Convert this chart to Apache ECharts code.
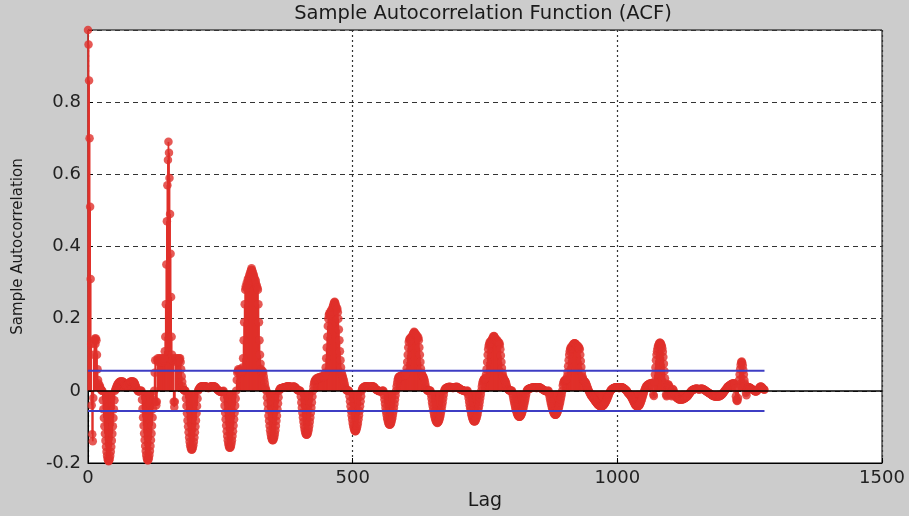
<!DOCTYPE html>
<html><head><meta charset="utf-8">
<script src="https://cdn.jsdelivr.net/npm/echarts@6/dist/echarts.min.js"></script>
<style>html,body{margin:0;padding:0;background:#cccccc}#c{width:909px;height:516px}</style>
</head><body><div id="c"></div>
<script>
// Sample autocorrelation value at each lag (index = lag)
const acf = [
/*0*/ 1,.96,.86,.70,.51,.31,.13,-.04,-.12,-.14,
/*10*/ -.02,.1,.14,.145,.13,.145,.14,.1,.06,.03,
/*20*/ .02,.01,.015,.01,.005,.002,0,0,-.026,-.051,
/*30*/ -.075,-.098,-.119,-.138,-.155,-.169,-.18,-.188,-.193,-.195,
/*40*/ -.193,-.188,-.18,-.169,-.155,-.138,-.119,-.098,-.075,-.051,
/*50*/ -.026,0,.004,.008,.012,.015,.018,.02,.022,.024,
/*60*/ .025,.026,.025,.026,.025,.026,.025,.024,.022,.02,
/*70*/ .018,.016,.015,.014,.015,.016,.018,.02,.022,.024,
/*80*/ .025,.026,.025,.026,.025,.026,.025,.024,.022,.018,
/*90*/ .014,.01,.006,.003,0,-.001,-.001,-.002,-.001,0,
/*100*/ 0,0,-.025,-.05,-.074,-.097,-.118,-.136,-.153,-.167,
/*110*/ -.178,-.186,-.191,-.193,-.191,-.186,-.178,-.167,-.153,-.136,
/*120*/ -.118,-.097,-.074,-.05,-.025,0,.05,.085,-.03,-.04,
/*130*/ -.03,.085,.09,.08,.085,.09,.085,.08,.09,.085,
/*140*/ .085,.08,.09,.085,.09,.11,.15,.24,.35,.47,
/*150*/ .57,.64,.69,.66,.59,.49,.38,.26,.15,.1,
/*160*/ .085,.09,-.03,-.045,-.03,.085,.09,.08,.085,.09,
/*170*/ .085,.08,.09,.085,.09,.08,.06,.04,.025,.012,
/*180*/ .004,.002,0,.001,0,-.021,-.042,-.062,-.082,-.099,
/*190*/ -.115,-.129,-.141,-.151,-.157,-.162,-.163,-.162,-.157,-.151,
/*200*/ -.141,-.129,-.115,-.099,-.082,-.062,-.042,-.021,0,.004,
/*210*/ .006,.008,.01,.011,.012,.013,.012,.013,.012,.013,
/*220*/ .012,.013,.012,.012,.011,.01,.009,.008,.008,.009,
/*230*/ .01,.011,.012,.013,.012,.013,.012,.013,.012,.012,
/*240*/ .011,.01,.008,.006,.004,.002,.002,0,-.001,-.002,
/*250*/ -.002,-.003,-.003,-.002,-.002,-.001,0,-.021,-.041,-.061,
/*260*/ -.079,-.096,-.112,-.125,-.137,-.146,-.153,-.157,-.158,-.157,
/*270*/ -.153,-.146,-.137,-.125,-.112,-.096,-.079,-.061,-.041,-.021,
/*280*/ 0,.03,.05,.055,.06,.055,.05,.055,.06,.055,
/*290*/ .05,.055,.065,.09,.14,.19,.24,.28,.29,.285,
/*300*/ .3,.295,.31,.305,.315,.32,.325,.33,.335,.34,
/*310*/ .335,.33,.325,.32,.315,.31,.3,.305,.295,.29,
/*320*/ .285,.28,.24,.19,.14,.1,.075,.06,.055,.05,
/*330*/ .055,.05,.04,.03,.02,.01,.004,0,-.018,-.035,
/*340*/ -.052,-.069,-.083,-.097,-.109,-.119,-.127,-.132,-.136,-.137,
/*350*/ -.136,-.132,-.127,-.119,-.109,-.097,-.083,-.069,-.052,-.035,
/*360*/ -.018,0,.004,.006,.007,.007,.008,.008,.008,.009,
/*370*/ .009,.01,.01,.01,.011,.011,.012,.012,.012,.012,
/*380*/ .012,.012,.011,.011,.01,.01,.01,.011,.011,.012,
/*390*/ .011,.01,.009,.007,.005,.003,.002,.001,.001,0,
/*400*/ 0,0,-.016,-.032,-.047,-.061,-.074,-.086,-.097,-.106,
/*410*/ -.113,-.118,-.121,-.122,-.121,-.118,-.113,-.106,-.097,-.086,
/*420*/ -.074,-.061,-.047,-.032,-.016,0,.012,.02,.026,.03,
/*430*/ .03,.032,.035,.033,.036,.034,.037,.035,.038,.036,
/*440*/ .039,.037,.04,.038,.04,.037,.04,.042,.05,.065,
/*450*/ .09,.12,.15,.18,.2,.21,.215,.21,.22,.215,
/*460*/ .225,.22,.23,.235,.24,.245,.247,.244,.238,.232,
/*470*/ .225,.228,.218,.2,.17,.14,.11,.085,.065,.05,
/*480*/ .045,.04,.035,.03,.024,.017,.01,.005,.002,.001,
/*490*/ 0,.001,0,0,-.015,-.029,-.043,-.056,-.068,-.079,
/*500*/ -.089,-.097,-.103,-.108,-.111,-.112,-.111,-.108,-.103,-.097,
/*510*/ -.089,-.079,-.068,-.056,-.043,-.029,-.015,0,.005,.007,
/*520*/ .009,.01,.011,.012,.012,.013,.012,.013,.012,.012,
/*530*/ .011,.01,.01,.011,.012,.013,.012,.013,.012,.012,
/*540*/ .011,.01,.008,.006,.004,.003,.002,.001,.001,0,
/*550*/ -.001,-.001,-.001,-.001,-.001,-.001,0,0,0,-.012,
/*560*/ -.024,-.036,-.047,-.057,-.066,-.075,-.081,-.087,-.091,-.093,
/*570*/ -.094,-.093,-.091,-.087,-.081,-.075,-.066,-.057,-.047,-.036,
/*580*/ -.024,-.012,0,.012,.022,.03,.035,.038,.04,.039,
/*590*/ .04,.042,.04,.043,.041,.044,.042,.045,.043,.046,
/*600*/ .044,.05,.062,.08,.1,.12,.135,.142,.145,.14,
/*610*/ .148,.145,.152,.15,.157,.16,.164,.162,.158,.154,
/*620*/ .156,.15,.152,.145,.148,.14,.12,.1,.08,.062,
/*630*/ .05,.045,.042,.04,.037,.033,.028,.02,.012,.006,
/*640*/ .003,.001,0,0,.001,0,.001,0,-.011,-.021,
/*650*/ -.032,-.041,-.051,-.059,-.067,-.073,-.079,-.083,-.086,-.088,
/*660*/ -.089,-.088,-.086,-.083,-.079,-.073,-.067,-.059,-.051,-.041,
/*670*/ -.032,-.021,-.011,0,.004,.006,.007,.008,.009,.009,
/*680*/ .01,.01,.011,.01,.011,.01,.01,.009,.009,.008,
/*690*/ .008,.009,.009,.01,.01,.011,.01,.011,.01,.009,
/*700*/ .008,.007,.006,.005,.004,.003,.002,.002,.001,.001,
/*710*/ 0,0,-.001,-.001,-.001,-.001,0,0,-.01,-.02,
/*720*/ -.03,-.04,-.048,-.056,-.064,-.07,-.075,-.079,-.083,-.084,
/*730*/ -.085,-.084,-.083,-.079,-.075,-.07,-.064,-.056,-.048,-.04,
/*740*/ -.03,-.02,-.01,0,.012,.02,.026,.03,.032,.033,
/*750*/ .034,.036,.045,.06,.08,.1,.115,.125,.13,.135,
/*760*/ .132,.138,.136,.142,.145,.148,.151,.152,.15,.146,
/*770*/ .141,.143,.138,.14,.134,.136,.13,.133,.128,.115,
/*780*/ .098,.08,.063,.05,.042,.036,.033,.03,.028,.025,
/*790*/ .02,.014,.009,.005,.003,.002,.001,0,0,.001,
/*800*/ 0,0,-.008,-.016,-.024,-.031,-.038,-.045,-.051,-.056,
/*810*/ -.061,-.065,-.068,-.07,-.072,-.072,-.072,-.07,-.068,-.065,
/*820*/ -.061,-.056,-.051,-.045,-.038,-.031,-.024,-.016,-.008,0,
/*830*/ .003,.004,.005,.006,.006,.007,.007,.008,.008,.009,
/*840*/ .009,.009,.01,.009,.01,.009,.009,.008,.008,.009,
/*850*/ .009,.01,.009,.01,.009,.008,.007,.006,.005,.004,
/*860*/ .003,.002,.001,0,0,-.001,-.001,-.001,-.001,0,
/*870*/ 0,-.008,-.016,-.023,-.031,-.037,-.044,-.049,-.054,-.058,
/*880*/ -.062,-.064,-.066,-.066,-.066,-.064,-.062,-.058,-.054,-.049,
/*890*/ -.044,-.037,-.031,-.023,-.016,-.008,0,.015,.022,.026,
/*900*/ .028,.03,.029,.031,.033,.04,.052,.068,.085,.1,
/*910*/ .11,.116,.12,.118,.124,.122,.127,.129,.131,.132,
/*920*/ .132,.13,.127,.128,.124,.125,.12,.122,.118,.115,
/*930*/ .1,.083,.066,.05,.04,.034,.03,.028,.026,.025,
/*940*/ .023,.02,.016,.012,.008,.004,0,-.003,-.006,-.009,
/*950*/ -.012,-.014,-.016,-.018,-.02,-.022,-.024,-.026,-.028,-.03,
/*960*/ -.032,-.034,-.036,-.038,-.039,-.04,-.041,-.042,-.043,-.043,
/*970*/ -.043,-.043,-.042,-.041,-.04,-.038,-.036,-.034,-.031,-.028,
/*980*/ -.025,-.022,-.018,-.014,-.01,-.006,-.003,0,.002,.004,
/*990*/ .005,.006,.007,.008,.008,.009,.009,.01,.01,.01,
/*1000*/ .01,.009,.009,.008,.008,.009,.009,.01,.01,.01,
/*1010*/ .009,.008,.007,.006,.005,.004,.002,.001,0,-.003,
/*1020*/ -.006,-.007,-.008,-.01,-.012,-.014,-.016,-.019,-.022,-.025,
/*1030*/ -.028,-.031,-.034,-.037,-.039,-.041,-.042,-.043,-.043,-.043,
/*1040*/ -.042,-.041,-.039,-.036,-.033,-.029,-.025,-.02,-.015,-.01,
/*1050*/ -.005,0,.004,.008,.011,.013,.015,.016,.017,.018,
/*1060*/ .018,.02,.019,.021,.02,.022,.02,.012,-.01,-.014,
/*1070*/ .025,.045,.065,.085,.1,.11,.118,.124,.128,.131,
/*1080*/ .133,.133,.131,.128,.124,.118,.108,.094,.075,.055,
/*1090*/ .035,.02,-.01,-.015,-.012,.015,.018,.016,.012,.008,
/*1100*/ .004,-.005,-.012,-.015,-.01,.005,.002,-.004,-.008,-.012,
/*1110*/ -.015,-.017,-.019,-.02,-.021,-.022,-.023,-.024,-.024,-.024,
/*1120*/ -.024,-.023,-.024,-.024,-.023,-.022,-.022,-.021,-.02,-.019,
/*1130*/ -.018,-.017,-.016,-.014,-.012,-.01,-.008,-.006,-.004,-.002,
/*1140*/ 0,.001,.002,.003,.004,.004,.005,.005,.006,.006,
/*1150*/ .006,.006,.005,.005,.004,.004,.005,.005,.006,.006,
/*1160*/ .006,.005,.005,.004,.003,.002,.001,0,-.001,-.002,
/*1170*/ -.003,-.004,-.005,-.006,-.007,-.008,-.009,-.01,-.011,-.012,
/*1180*/ -.013,-.014,-.014,-.015,-.015,-.016,-.016,-.016,-.016,-.016,
/*1190*/ -.016,-.015,-.015,-.015,-.014,-.013,-.012,-.011,-.01,-.008,
/*1200*/ -.006,-.004,-.002,0,.002,.004,.006,.008,.01,.012,
/*1210*/ .013,.014,.015,.016,.017,.018,.019,.02,.019,.02,
/*1220*/ .021,.02,.018,.005,-.015,-.025,-.028,-.027,-.02,.01,
/*1230*/ .03,.045,.06,.072,.079,.081,.078,.07,.058,.045,
/*1240*/ .03,.02,.015,-.005,-.012,.004,.008,.009,.01,.01,
/*1250*/ .009,.008,.007,.006,.005,.004,.003,.002,.001,0,
/*1260*/ -.001,-.002,-.002,-.001,0,.002,.004,.006,.008,.01,
/*1270*/ .011,.012,.011,.01,.008,.006,.005,.004,.003
];
// lag of each value
const lags = acf.map((_, i) => i);
// approximate 95% confidence bounds
const confBound = [0.0559, -0.0559];
// axis ticks and their labels
const xTicks = [0, 500, 1000, 1500];
const xTickLabels = ['0', '500', '1000', '1500'];
const yTicks = [-0.2, 0, 0.2, 0.4, 0.6, 0.8, 1];
const yTickLabels = ['-0.2', '0', '0.2', '0.4', '0.6', '0.8', ''];
const titleText = 'Sample Autocorrelation Function (ACF)';
const xName = 'Lag';
const yName = 'Sample Autocorrelation';

const RED = '#e0302a';
const BLUE = '#3d3dc4';
const FONT = 'DejaVu Sans';
const maxLag = lags[lags.length - 1];
const points = acf.map((v, i) => [lags[i], v]);

function pick(ticks, labels, v) {
  let best = 0;
  ticks.forEach((t, i) => { if (Math.abs(t - v) < Math.abs(ticks[best] - v)) best = i; });
  return labels[best];
}

const chart = echarts.init(document.getElementById('c'), null, { renderer: 'canvas', width: 909, height: 516 });
chart.setOption({
  animation: false,
  backgroundColor: '#cccccc',
  title: {
    text: titleText, left: 478, top: -1, textAlign: 'center',
    textStyle: { fontFamily: FONT, fontSize: 19.5, fontWeight: 'normal', color: '#1a1a1a' }
  },
  grid: {
    left: 88, right: 27, top: 30, bottom: 53, containLabel: false, outerBoundsMode: 'none',
    show: true, backgroundColor: '#ffffff', borderColor: '#000', borderWidth: 1
  },
  xAxis: {
    type: 'value', min: xTicks[0], max: xTicks[xTicks.length - 1], interval: xTicks[1] - xTicks[0],
    name: xName, nameLocation: 'middle', nameGap: 26,
    nameTextStyle: { fontFamily: FONT, fontSize: 19, color: '#1a1a1a' },
    axisLine: { show: true, onZero: false, lineStyle: { color: '#000', width: 1 } },
    axisTick: { show: true, inside: true, length: 5, lineStyle: { color: '#000' } },
    axisLabel: { fontFamily: FONT, fontSize: 18, color: '#222', margin: 6,
      formatter: (v) => pick(xTicks, xTickLabels, v) },
    splitLine: { show: true, lineStyle: { color: '#333', type: [2, 3], width: 1.2 } }
  },
  yAxis: {
    type: 'value', min: yTicks[0], max: yTicks[yTicks.length - 1], interval: 0.2,
    name: yName, nameLocation: 'middle', nameGap: 62, nameRotate: 90,
    nameTextStyle: { fontFamily: FONT, fontSize: 15, color: '#1a1a1a' },
    axisLine: { show: true, onZero: false, lineStyle: { color: '#000', width: 1 } },
    axisTick: { show: true, inside: true, length: 5, lineStyle: { color: '#000' } },
    axisLabel: { fontFamily: FONT, fontSize: 18, color: '#222', margin: 7,
      formatter: (v) => pick(yTicks, yTickLabels, v) },
    splitLine: { show: true, lineStyle: { color: '#333', type: [5, 4], width: 1.2 } }
  },
  series: [
    { type: 'bar', data: points, barWidth: 1.8, itemStyle: { color: RED }, z: 2, silent: true },
    { type: 'scatter', data: points, symbol: 'circle', symbolSize: 8.5, clip: false,
      itemStyle: { color: RED }, z: 3, silent: true },
    {
      type: 'line', data: [[lags[0], confBound[0]], [maxLag, confBound[0]]], symbol: 'none',
      lineStyle: { color: BLUE, width: 2 }, z: 5, silent: true,
      markLine: {
        silent: true, symbol: 'none', label: { show: false },
        lineStyle: { color: '#000', type: 'solid', width: 1.5 },
        data: [{ yAxis: 0 }]
      }
    },
    {
      type: 'line', data: [[lags[0], confBound[1]], [maxLag, confBound[1]]], symbol: 'none',
      lineStyle: { color: BLUE, width: 2 }, z: 5, silent: true
    }
  ]
});
</script>
</body></html>
